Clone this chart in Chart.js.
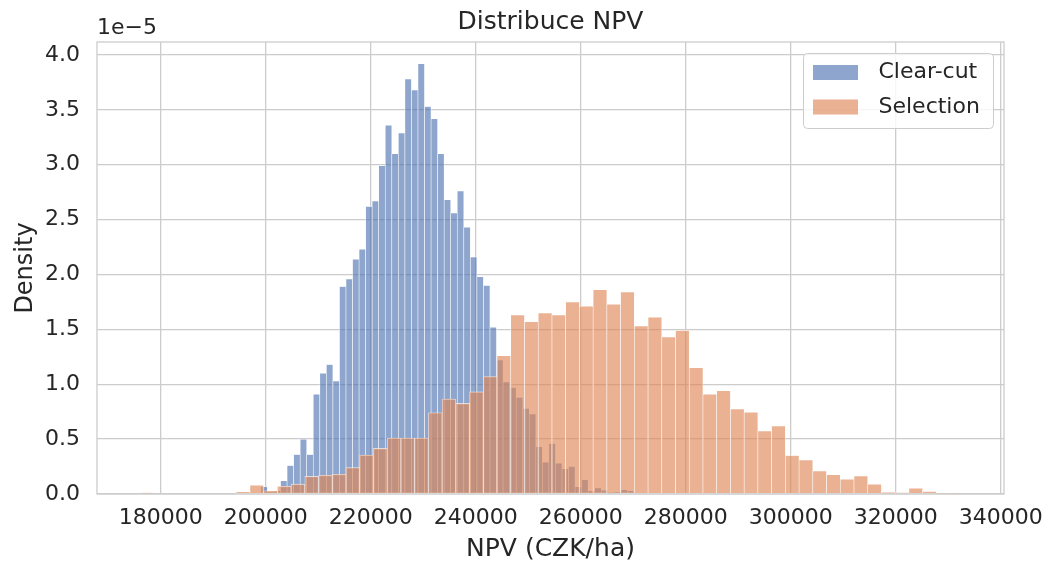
<!DOCTYPE html>
<html>
<head>
<meta charset="utf-8">
<script src="https://cdn.jsdelivr.net/npm/chart.js@4.4.1/dist/chart.umd.min.js"></script>
<style>
html, body { margin: 0; padding: 0; background: #ffffff; }
canvas { display: block; }
</style>
</head>
<body>
<canvas id="c" width="1047" height="562"></canvas>
<script>
// ---------------- data ----------------
const chartTitle = 'Distribuce NPV';
const xAxisLabel = 'NPV (CZK/ha)';
const yAxisLabel = 'Density';
const yOffsetLabel = '1e\u22125';
const seriesNames = ['Clear-cut', 'Selection'];

const xTickValues = [180000, 200000, 220000, 240000, 260000, 280000, 300000, 320000, 340000];
const yTickValues = [0, 0.5, 1.0, 1.5, 2.0, 2.5, 3.0, 3.5, 4.0]; // x 1e-5

// Clear-cut histogram: bin centres (CZK/ha) and density (x 1e-5)
const clearCutBinCenters = [
  199709, 200956, 202203, 203449, 204696, 205943, 207189, 208436, 209683, 210930,
  212176, 213423, 214670, 215916, 217163, 218410, 219657, 220903, 222150, 223397,
  224643, 225890, 227137, 228384, 229630, 230877, 232124, 233370, 234617, 235864,
  237111, 238357, 239604, 240851, 242097, 243344, 244591, 245838, 247084, 248331,
  249578, 250824, 252071, 253318, 254565, 255811, 257058, 258305, 259551, 260798,
  262045, 263292, 264538, 265785, 267032, 268278, 269525
];
const clearCutDensity = [
  0.066, 0.02, 0.03, 0.12, 0.26, 0.36, 0.50, 0.36, 0.91, 1.10,
  1.18, 1.03, 1.89, 1.96, 2.14, 2.23, 2.62, 2.67, 2.99, 3.36,
  3.10, 3.29, 3.78, 3.68, 3.92, 3.53, 3.42, 3.10, 2.68, 2.56,
  2.76, 2.43, 2.16, 1.98, 1.90, 1.52, 1.22, 1.02, 0.97, 0.88,
  0.78, 0.73, 0.43, 0.29, 0.46, 0.28, 0.23, 0.25, 0.067, 0.13,
  0.03, 0.055, 0.035, 0.01, 0.02, 0.04, 0.03
];

// Selection histogram: bin centres (CZK/ha) and density (x 1e-5)
const selectionBinCenters = [
  177384, 179999, 182614, 185229, 187844, 190459, 193074, 195689, 198304, 200919,
  203534, 206149, 208764, 211379, 213994, 216609, 219224, 221839, 224454, 227069,
  229684, 232299, 234914, 237529, 240144, 242759, 245374, 247989, 250604, 253219,
  255834, 258449, 261064, 263679, 266294, 268909, 271524, 274139, 276754, 279369,
  281984, 284599, 287214, 289829, 292444, 295059, 297674, 300289, 302904, 305519,
  308134, 310749, 313364, 315979, 318594, 321209, 323824, 326439, 329054, 331669
];
const selectionDensity = [
  0.01, 0, 0, 0, 0, 0, 0, 0.02, 0.08, 0.03,
  0.07, 0.09, 0.16, 0.17, 0.18, 0.24, 0.355, 0.415, 0.51, 0.51,
  0.51, 0.74, 0.865, 0.825, 0.93, 1.07, 1.26, 1.63, 1.57, 1.65,
  1.63, 1.75, 1.71, 1.86, 1.73, 1.84, 1.53, 1.61, 1.43, 1.49,
  1.15, 0.91, 0.94, 0.774, 0.744, 0.574, 0.62, 0.35, 0.31, 0.21,
  0.176, 0.134, 0.164, 0.088, 0.015, 0.012, 0.052, 0.024, 0.004, 0.008
];

// ---------------- styling ----------------
const FONT = "'DejaVu Sans', 'Liberation Sans', sans-serif";
const TEXT = '#262626';
const GRID = '#cccccc';
const blueFill = 'rgba(76, 114, 176, 0.63)';
const orangeFill = 'rgba(221, 132, 82, 0.63)';
const seriesColors = [blueFill, orangeFill];

const X_MIN = 167867, X_MAX = 340629;
const Y_MAX = 4.118;

function toPoints(xs, ys) { return xs.map((x, i) => ({ x: x, y: ys[i] })); }

const framePlugin = {
  id: 'axesFrame',
  afterDatasetsDraw(chart) {
    const { ctx, chartArea: a } = chart;
    ctx.save();
    ctx.strokeStyle = GRID;
    ctx.lineWidth = 1.3;
    ctx.strokeRect(a.left, a.top, a.right - a.left, a.bottom - a.top);
    ctx.restore();
  }
};

const textPlugin = {
  id: 'texts',
  afterDraw(chart) {
    const { ctx, chartArea: a } = chart;
    ctx.save();
    ctx.fillStyle = TEXT;
    // title
    ctx.font = '25px ' + FONT;
    ctx.textAlign = 'center';
    ctx.textBaseline = 'middle';
    ctx.fillText(chartTitle, (a.left + a.right) / 2, 22);
    // offset text
    ctx.font = '22px ' + FONT;
    ctx.textAlign = 'left';
    ctx.fillText(yOffsetLabel, a.left, 28);

    // legend
    const bx = a.right - 200.5, by = a.top + 11.5, bw = 190, bh = 75, r = 4;
    ctx.beginPath();
    ctx.moveTo(bx + r, by);
    ctx.arcTo(bx + bw, by, bx + bw, by + bh, r);
    ctx.arcTo(bx + bw, by + bh, bx, by + bh, r);
    ctx.arcTo(bx, by + bh, bx, by, r);
    ctx.arcTo(bx, by, bx + bw, by, r);
    ctx.closePath();
    ctx.fillStyle = 'rgba(255,255,255,0.8)';
    ctx.fill();
    ctx.strokeStyle = GRID;
    ctx.lineWidth = 1;
    ctx.stroke();
    const rows = [by + 19, by + 53.5];
    seriesNames.forEach((name, i) => {
      ctx.fillStyle = seriesColors[i];
      ctx.fillRect(bx + 9.5, rows[i] - 7.5, 45, 15);
      ctx.fillStyle = TEXT;
      ctx.font = '22px ' + FONT;
      ctx.textAlign = 'left';
      ctx.textBaseline = 'middle';
      ctx.fillText(name, bx + 75, rows[i]);
    });
    ctx.restore();
  }
};

const barStyle = {
  barPercentage: 1.0,
  categoryPercentage: 1.0,
  borderWidth: 0.6,
  borderColor: 'rgba(255,255,255,0.75)',
  borderSkipped: false,
  grouped: false
};

new Chart(document.getElementById('c'), {
  type: 'bar',
  data: {
    datasets: [
      Object.assign({
        label: seriesNames[0],
        data: toPoints(clearCutBinCenters, clearCutDensity),
        backgroundColor: blueFill,
        xAxisID: 'x',
        yAxisID: 'y',
        order: 2
      }, barStyle),
      Object.assign({
        label: seriesNames[1],
        data: toPoints(selectionBinCenters, selectionDensity),
        backgroundColor: orangeFill,
        xAxisID: 'x2',
        yAxisID: 'y',
        order: 1
      }, barStyle)
    ]
  },
  options: {
    responsive: false,
    devicePixelRatio: 1,
    animation: false,
    events: [],
    layout: { padding: { top: 42, right: 43, left: 0, bottom: 0 } },
    plugins: {
      legend: { display: false },
      title: { display: false },
      tooltip: { enabled: false }
    },
    scales: {
      x: {
        type: 'linear',
        position: 'bottom',
        min: X_MIN,
        max: X_MAX,
        offset: false,
        afterBuildTicks: s => { s.ticks = xTickValues.map(v => ({ value: v })); },
        afterFit: s => { s.height = 68; s.paddingLeft = 0; s.paddingRight = 0; },
        grid: { color: GRID, lineWidth: 1.3, drawTicks: false, offset: false },
        border: { display: false },
        ticks: {
          padding: 11,
          maxRotation: 0,
          autoSkip: false,
          color: TEXT,
          font: { family: FONT, size: 22 },
          callback: v => String(v)
        },
        title: {
          display: true,
          text: xAxisLabel,
          color: TEXT,
          font: { family: FONT, size: 25 },
          padding: { top: 0, bottom: -2 }
        }
      },
      x2: {
        type: 'linear',
        position: 'bottom',
        display: false,
        min: X_MIN,
        max: X_MAX,
        offset: false,
        grid: { offset: false }
      },
      y: {
        type: 'linear',
        position: 'left',
        min: 0,
        max: Y_MAX,
        afterBuildTicks: s => { s.ticks = yTickValues.map(v => ({ value: v })); },
        afterFit: s => { s.width = 97; s.paddingTop = 0; s.paddingBottom = 0; },
        grid: { color: GRID, lineWidth: 1.3, drawTicks: false },
        border: { display: false },
        ticks: {
          padding: 17,
          color: TEXT,
          font: { family: FONT, size: 22 },
          callback: v => Number(v).toFixed(1)
        },
        title: {
          display: true,
          text: yAxisLabel,
          color: TEXT,
          font: { family: FONT, size: 24 },
          padding: { top: 11, bottom: 0 }
        }
      }
    }
  },
  plugins: [framePlugin, textPlugin]
});
</script>
</body>
</html>
